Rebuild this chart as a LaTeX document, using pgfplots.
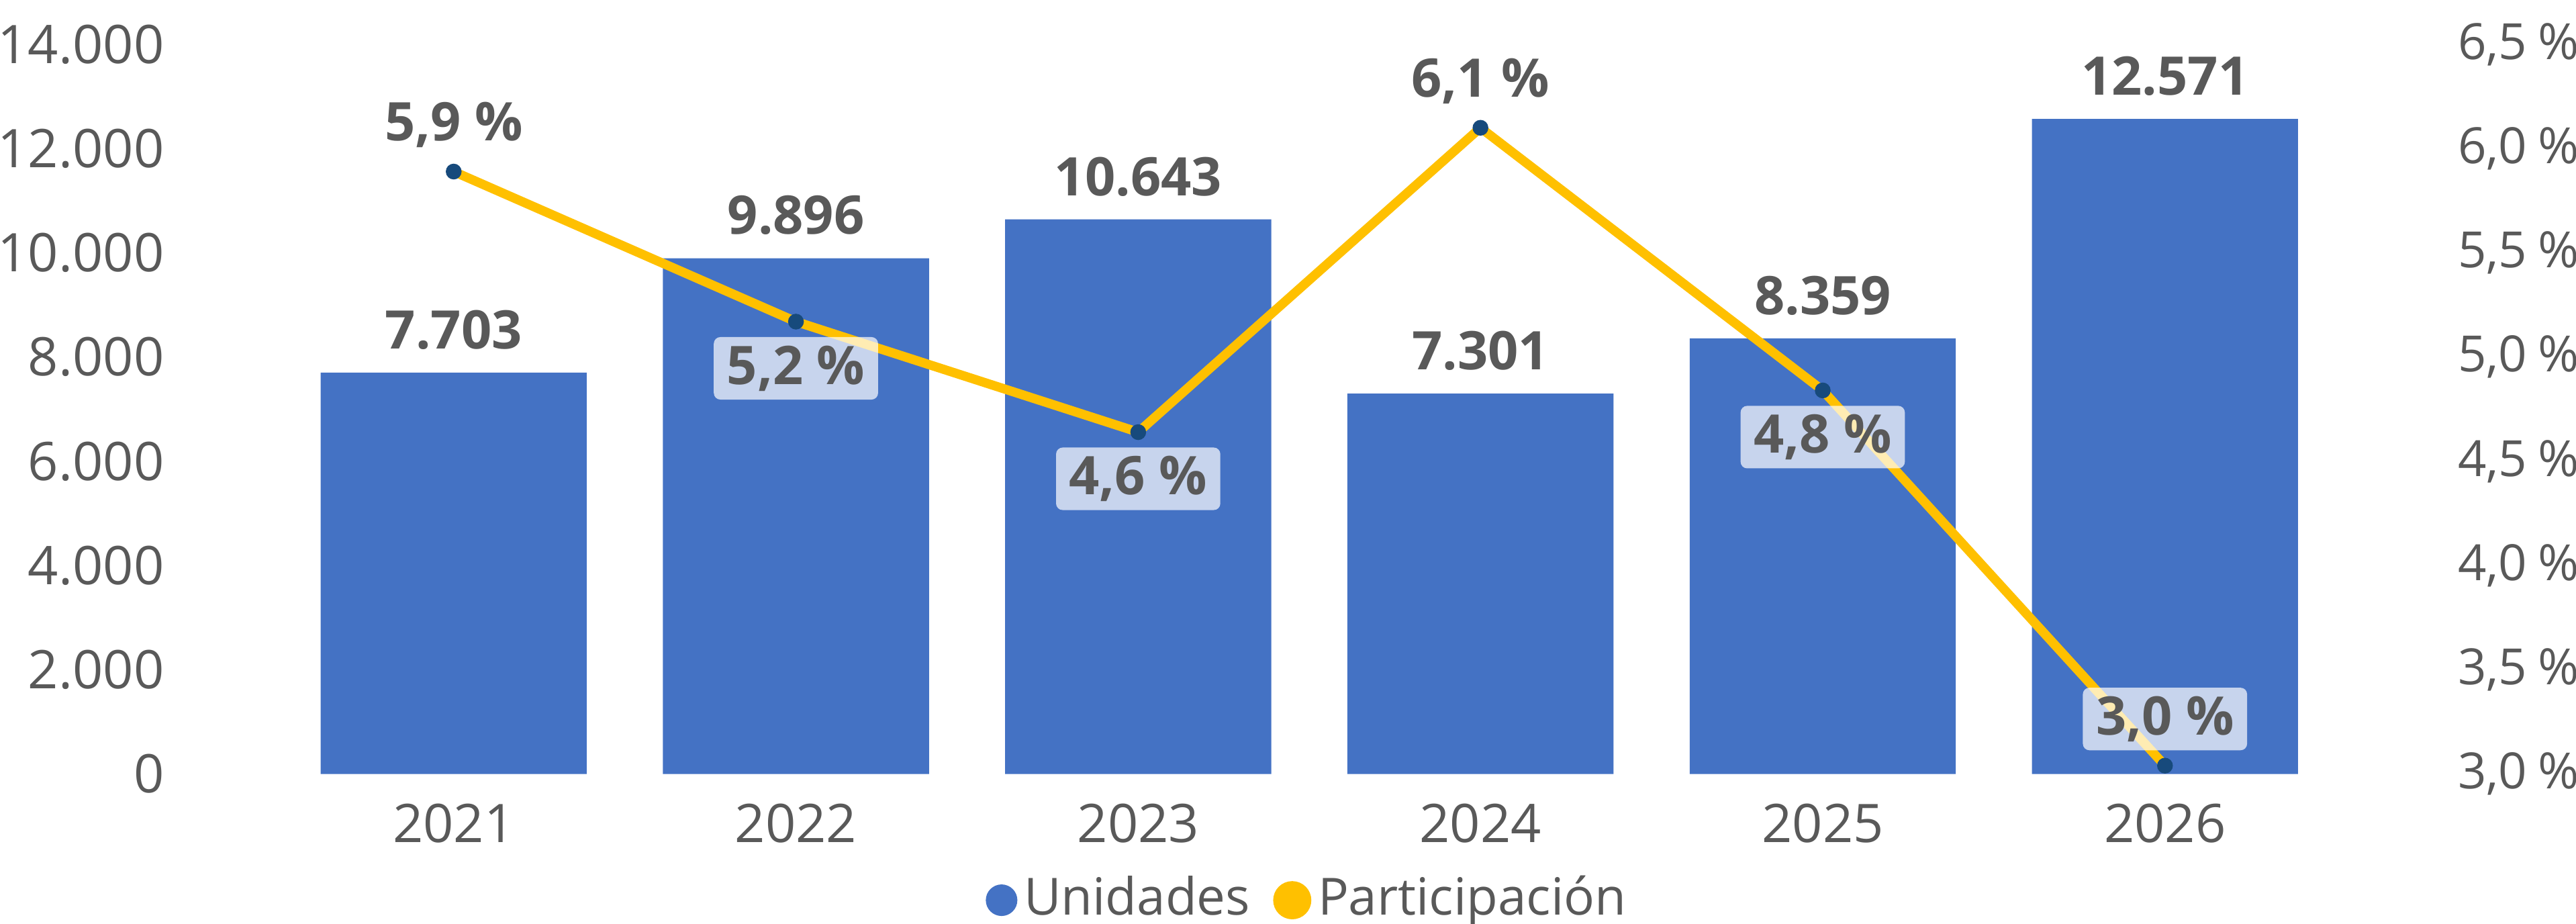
\documentclass[border=0pt]{standalone}
\usepackage{fontspec}
\setmainfont{Open Sans}
\usepackage{pgfplots}
\usepackage{pgfplotstable}
\pgfplotsset{compat=1.18}
\definecolor{barblue}{HTML}{4472C4}
\definecolor{lineyellow}{HTML}{FFC000}
\definecolor{markblue}{HTML}{174A7C}
\definecolor{textgray}{HTML}{595959}

\pgfplotstableread{
x units share pos
0 7703 5.89 1
1 9896 5.17 -1
2 10643 4.64 -1
3 7301 6.10 1
4 8359 4.84 -1
5 12571 3.04 1
}\datatable

\pgfplotsset{/pgf/number format/assume math mode=true}
\newcommand{\chartfont}{\fontsize{8.1}{9.8}\selectfont}
\newcommand{\rightfont}{\fontsize{7.6}{9.2}\selectfont}

\begin{document}
\begin{tikzpicture}
\begin{axis}[name=ax, at={(0pt,0pt)}, anchor=south west,
  scale only axis, width=312.5pt, height=111pt,
  xmin=-0.5, xmax=5.5, ymin=0, ymax=14000,
  xtick={0,...,5}, xticklabels={2021,2022,2023,2024,2025,2026},
  ytick={0,2000,...,14000}, scaled y ticks=false,
  yticklabel={\pgfmathprintnumber[fixed,precision=0,1000 sep={.}]{\tick}},
  axis line style={draw=none}, major tick length=0pt,
  tick label style={font=\chartfont, text=textgray},
  yticklabel style={xshift=-14.5pt},
  xticklabel style={yshift=-1pt},
  ybar, bar width=40.5pt,
  nodes near coords={\pgfmathprintnumber[fixed,precision=0,1000 sep={.}]{\pgfplotspointmeta}},
  every node near coord/.append style={font=\chartfont\bfseries, text=textgray},
  clip=false]
  \addplot[fill=barblue, draw=none] table[x=x, y=units] \datatable;
\end{axis}
\begin{axis}[at={(0pt,0pt)}, anchor=south west,
  scale only axis, width=312.5pt, height=111pt,
  xmin=-0.5, xmax=5.5, ymin=3, ymax=6.5,
  axis y line*=right, hide x axis,
  ytick={3,3.5,...,6.5},
  yticklabel={\pgfmathprintnumber[fixed,fixed zerofill,precision=1,use comma]{\tick}\kern0.22em\%},
  axis line style={draw=none}, major tick length=0pt,
  tick label style={font=\rightfont, text=textgray},
  yticklabel style={anchor=west, xshift=15pt},
  clip=false,
  legend style={at={(0.5,-0.173)}, anchor=center, draw=none, fill=none,
    legend columns=-1, font=\fontsize{7.8}{9.4}\selectfont, text=textgray,
    /tikz/every even column/.append style={column sep=2.5pt},
    nodes={inner xsep=1pt}}]
  \addlegendimage{legend image code/.code={\fill[barblue] (2.2pt,0pt) circle (2.2pt);}}
  \addlegendentry{Unidades}
  \addplot[color=lineyellow, line width=1.4pt, mark=*, mark size=1.1pt,
    mark options={fill=markblue, draw=markblue, line width=0.2pt},
    legend image code/.code={\fill[lineyellow] (2.2pt,0pt) circle (2.2pt);},
    visualization depends on={\thisrow{pos} \as \lblpos},
    nodes near coords={\pgfmathprintnumber[fixed,fixed zerofill,precision=1,use comma]{\pgfplotspointmeta}~\%},
    every node near coord/.append style={anchor=center, yshift=\lblpos*7.1pt,
      font=\chartfont\bfseries, text=textgray, fill=white, fill opacity=0.7,
      text opacity=1, rounded corners=1pt, inner xsep=2pt, inner ysep=1.3pt}]
    table[x=x, y=share] \datatable;
  \addlegendentry{Participación}
\end{axis}
\pgfresetboundingbox
\path[use as bounding box] (-43pt,-22.75pt) rectangle (349pt,117.75pt);
\end{tikzpicture}
\end{document}
